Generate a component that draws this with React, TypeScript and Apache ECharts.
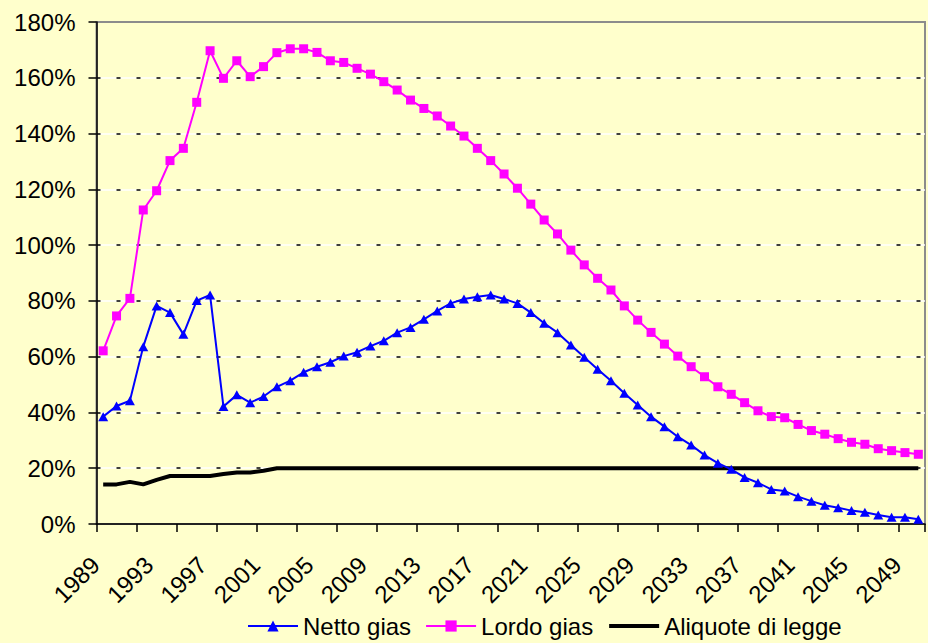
import React, { useEffect, useRef } from "react";
import * as echarts from "echarts";

const years = [
  "1989", "1990", "1991", "1992", "1993", "1994", "1995", "1996", "1997", "1998",
  "1999", "2000", "2001", "2002", "2003", "2004", "2005", "2006", "2007", "2008",
  "2009", "2010", "2011", "2012", "2013", "2014", "2015", "2016", "2017", "2018",
  "2019", "2020", "2021", "2022", "2023", "2024", "2025", "2026", "2027", "2028",
  "2029", "2030", "2031", "2032", "2033", "2034", "2035", "2036", "2037", "2038",
  "2039", "2040", "2041", "2042", "2043", "2044", "2045", "2046", "2047", "2048",
  "2049", "2050",
];

const nettoGias = [
  38.5, 42.3, 44.2, 63.6, 78.2, 75.8, 68.0, 80.1, 82.1, 42.1,
  46.3, 43.5, 45.7, 49.2, 51.4, 54.4, 56.4, 58.0, 60.2, 61.6,
  63.8, 65.7, 68.6, 70.5, 73.4, 76.4, 79.1, 80.7, 81.5, 82.1,
  80.7, 79.1, 75.8, 72.0, 68.6, 64.2, 59.8, 55.5, 51.4, 46.9,
  42.7, 38.5, 34.9, 31.3, 28.3, 24.7, 21.8, 19.6, 16.7, 14.8,
  12.4, 11.8, 9.8, 8.2, 6.7, 5.8, 4.8, 4.2, 3.2, 2.4,
  2.4, 1.7,
];

const lordoGias = [
  62.1, 74.6, 80.9, 112.6, 119.5, 130.3, 134.7, 151.2, 169.7, 159.8,
  166.1, 160.4, 164.0, 169.0, 170.4, 170.4, 169.1, 166.1, 165.5, 163.4,
  161.3, 158.6, 155.6, 152.0, 149.0, 146.3, 142.7, 139.1, 134.7, 130.3,
  125.5, 120.4, 114.7, 109.0, 104.0, 98.2, 92.9, 88.1, 83.9, 78.2,
  73.1, 68.7, 64.5, 60.2, 56.4, 52.8, 49.2, 46.5, 43.5, 40.6,
  38.5, 38.1, 35.7, 33.5, 32.2, 30.6, 29.3, 28.6, 27.0, 26.3,
  25.6, 25.0,
];

const aliquoteDiLegge = [
  14.2, 14.2, 15.1, 14.2, 15.8, 17.2, 17.2, 17.2, 17.2, 17.9,
  18.5, 18.5, 19.1, 20, 20, 20, 20, 20, 20, 20,
  20, 20, 20, 20, 20, 20, 20, 20, 20, 20,
  20, 20, 20, 20, 20, 20, 20, 20, 20, 20,
  20, 20, 20, 20, 20, 20, 20, 20, 20, 20,
  20, 20, 20, 20, 20, 20, 20, 20, 20, 20,
  20, 20,
];

const seriesNames = ["Netto gias", "Lordo gias", "Aliquote di legge"];
const yMin = 0;
const yMax = 180;
const yStep = 20;

export default function App() {
  const ref = useRef<HTMLDivElement>(null);

  useEffect(() => {
    if (!ref.current) return;
    const chart = echarts.init(ref.current, undefined, { renderer: "svg" });
    const font = "'Liberation Sans', Arial, sans-serif";
    chart.setOption({
      animation: false,
      backgroundColor: "#FFFFCC",
      textStyle: { fontFamily: font, color: "#000" },
      grid: {
        left: 96.5,
        right: 3,
        top: 22,
        bottom: 119,
        show: true,
        borderColor: "#8c8c8c",
        borderWidth: 2,
        backgroundColor: "transparent",
      },
      legend: {
        data: [
          { name: seriesNames[0] },
          { name: seriesNames[1] },
          { name: seriesNames[2], itemStyle: { opacity: 0 }, lineStyle: { width: 4, color: "#000" } },
        ],
        left: 242,
        top: 609,
        itemWidth: 50,
        itemHeight: 14,
        itemGap: 14,
        textStyle: { fontSize: 24, color: "#000", fontFamily: font },
      },
      xAxis: {
        type: "category",
        data: years,
        boundaryGap: true,
        axisLine: { show: true, lineStyle: { color: "#000", width: 1.5 } },
        axisTick: { show: true, interval: 2, length: 8, lineStyle: { color: "#000", width: 1.5 } },
        axisLabel: {
          interval: 3,
          rotate: 45,
          fontSize: 24,
          color: "#000",
          fontFamily: font,
          margin: 29,
          padding: [0, 11, 0, 0],
        },
        splitLine: { show: false },
      },
      yAxis: [
        {
          type: "value",
          min: yMin,
          max: yMax,
          interval: yStep,
          axisLine: { show: true, lineStyle: { color: "#000", width: 1.5 } },
          axisTick: { show: true, length: 8, lineStyle: { color: "#000", width: 1.5 } },
          axisLabel: { formatter: "{value}%", fontSize: 24, color: "#000", fontFamily: font, margin: 21 },
          splitLine: {
            show: true,
            showMinLine: false,
            showMaxLine: false,
            lineStyle: { color: "#ffffff", width: 1.5, type: "solid" },
          },
        },
        {
          type: "value",
          min: yMin,
          max: yMax,
          interval: yStep,
          position: "left",
          axisLine: { show: false },
          axisTick: { show: false },
          axisLabel: { show: false },
          splitLine: {
            show: true,
            showMinLine: false,
            showMaxLine: false,
            lineStyle: { color: "#000000", width: 1.5, type: [4, 16] },
          },
        },
      ],
      series: [
        {
          name: "Aliquote di legge",
          type: "line",
          data: aliquoteDiLegge,
          yAxisIndex: 0,
          symbol: "none",
          lineStyle: { color: "#000000", width: 4 },
          itemStyle: { color: "#000000" },
        },
        {
          name: "Lordo gias",
          type: "line",
          data: lordoGias,
          yAxisIndex: 0,
          symbol: "rect",
          symbolSize: 9,
          showAllSymbol: true,
          lineStyle: { color: "#FF00FF", width: 2 },
          itemStyle: { color: "#FF00FF" },
        },
        {
          name: "Netto gias",
          type: "line",
          data: nettoGias,
          yAxisIndex: 0,
          symbol: "triangle",
          symbolSize: [10, 9],
          showAllSymbol: true,
          lineStyle: { color: "#0000FF", width: 2 },
          itemStyle: { color: "#0000FF" },
        },
      ],
    });
    return () => chart.dispose();
  }, []);

  return (
    <div
      ref={ref}
      style={{ position: "absolute", left: 0, top: 0, width: 928, height: 643 }}
    />
  );
}
